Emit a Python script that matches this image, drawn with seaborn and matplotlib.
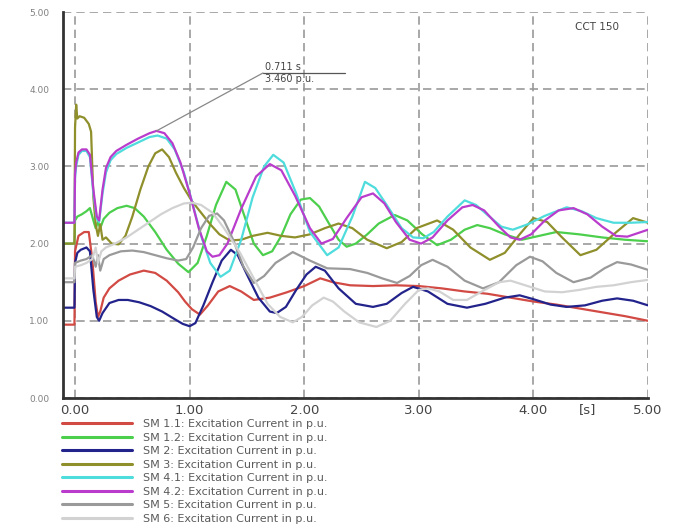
import numpy as np
import pandas as pd
import matplotlib
matplotlib.use("Agg")
import matplotlib.pyplot as plt
from matplotlib.ticker import MultipleLocator
import seaborn as sns

sns.set_theme(style="white")
plt.rcParams["font.family"] = ["DejaVu Sans"]

# Series names and colours
SERIES = [
    "SM 1.1: Excitation Current in p.u.",
    "SM 1.2: Excitation Current in p.u.",
    "SM 2: Excitation Current in p.u.",
    "SM 3: Excitation Current in p.u.",
    "SM 4.1: Excitation Current in p.u.",
    "SM 4.2: Excitation Current in p.u.",
    "SM 5: Excitation Current in p.u.",
    "SM 6: Excitation Current in p.u.",
]
COLORS = ["#d24a44", "#4ccf4c", "#23238c", "#8f8f2c", "#4fdcdc", "#b93ccc", "#9a9a9a", "#d2d2d2"]

# SM 1.1 (red)
SM11_T = [-0.1, -0.005, 0.0, 0.03, 0.08, 0.12, 0.15, 0.18, 0.2, 0.22, 0.25, 0.3, 0.38, 0.48, 0.6, 0.7,
          0.8, 0.9, 0.96, 1.02, 1.09, 1.16, 1.25, 1.35, 1.45, 1.56, 1.7, 1.85, 2.0, 2.14, 2.25, 2.4,
          2.6, 2.8, 3.0, 3.2, 3.4, 3.6, 3.8, 4.0, 4.2, 4.4, 4.6, 4.8, 5.0]
SM11_V = [0.95, 0.95, 1.9, 2.1, 2.15, 2.15, 1.8, 1.25, 1.05, 1.12, 1.3, 1.42, 1.52, 1.6, 1.65, 1.62,
          1.52, 1.37, 1.25, 1.15, 1.08, 1.2, 1.38, 1.45, 1.38, 1.27, 1.3, 1.37, 1.45, 1.55, 1.5, 1.46,
          1.45, 1.46, 1.45, 1.42, 1.38, 1.35, 1.3, 1.25, 1.21, 1.16, 1.11, 1.06, 1.0]

# SM 1.2 (green)
SM12_T = [-0.1, -0.005, 0.0, 0.02, 0.06, 0.1, 0.13, 0.16, 0.18, 0.2, 0.22, 0.25, 0.3, 0.37, 0.45, 0.52,
          0.6, 0.7, 0.8, 0.9, 0.99, 1.07, 1.15, 1.23, 1.32, 1.4, 1.48, 1.56, 1.64, 1.72, 1.8, 1.88,
          1.97, 2.05, 2.13, 2.22, 2.3, 2.37, 2.45, 2.55, 2.65, 2.79, 2.9, 3.03, 3.16, 3.28, 3.4, 3.51,
          3.62, 3.75, 3.9, 4.05, 4.2, 4.4, 4.6, 4.8, 5.0]
SM12_V = [2.0, 2.0, 2.3, 2.35, 2.38, 2.42, 2.46, 2.3, 2.2, 2.28, 2.2, 2.32, 2.4, 2.46, 2.49, 2.46,
          2.35, 2.15, 1.92, 1.74, 1.63, 1.75, 2.1, 2.5, 2.8, 2.7, 2.35, 2.0, 1.85, 1.9, 2.1, 2.38,
          2.57, 2.59, 2.48, 2.25, 2.05, 1.96, 2.0, 2.12, 2.26, 2.37, 2.3, 2.12, 1.98, 2.05, 2.18, 2.24,
          2.2, 2.12, 2.05, 2.1, 2.15, 2.12, 2.08, 2.05, 2.03]

# SM 2 (navy)
SM2_T = [-0.1, -0.005, 0.0, 0.02, 0.05, 0.1, 0.13, 0.16, 0.19, 0.21, 0.24, 0.3, 0.38, 0.46, 0.56, 0.66,
         0.76, 0.86, 0.94, 1.0, 1.05, 1.12, 1.2, 1.28, 1.36, 1.42, 1.5, 1.6, 1.7, 1.76, 1.84, 1.93,
         2.02, 2.1, 2.18, 2.3, 2.45, 2.6, 2.72, 2.85, 2.95, 3.08, 3.25, 3.42, 3.58, 3.75, 3.88, 4.0,
         4.15, 4.29, 4.45, 4.6, 4.73, 4.87, 5.0]
SM2_V = [1.17, 1.17, 1.75, 1.88, 1.92, 1.95, 1.9, 1.4, 1.05, 1.0, 1.1, 1.23, 1.27, 1.27, 1.24, 1.19,
         1.12, 1.03, 0.96, 0.93, 0.97, 1.2, 1.5, 1.78, 1.92, 1.85, 1.6, 1.3, 1.12, 1.1, 1.18, 1.4,
         1.6, 1.7, 1.65, 1.42, 1.22, 1.18, 1.22, 1.36, 1.44, 1.38, 1.22, 1.17, 1.22, 1.3, 1.33, 1.28,
         1.21, 1.18, 1.2, 1.26, 1.29, 1.26, 1.2]

# SM 3 (olive)
SM3_T = [-0.1, -0.005, 0.0, 0.01, 0.02, 0.04, 0.08, 0.12, 0.14, 0.16, 0.18, 0.2, 0.22, 0.24, 0.27, 0.32,
         0.38, 0.44, 0.5, 0.57, 0.64, 0.7, 0.76, 0.82, 0.88, 0.95, 1.02, 1.1, 1.18, 1.26, 1.35, 1.45,
         1.55, 1.68, 1.8, 1.92, 2.05, 2.18, 2.3, 2.42, 2.55, 2.72, 2.85, 2.98, 3.16, 3.3, 3.45, 3.62,
         3.75, 3.88, 4.0, 4.12, 4.25, 4.41, 4.55, 4.7, 4.87, 5.0]
SM3_V = [2.0, 2.0, 3.5, 3.8, 3.62, 3.65, 3.63, 3.55, 3.45, 2.6, 2.25, 2.1, 2.25, 2.05, 2.08, 2.0,
         1.99, 2.1, 2.35, 2.7, 3.0, 3.17, 3.22, 3.12, 2.92, 2.72, 2.55, 2.4, 2.25, 2.12, 2.04, 2.05,
         2.1, 2.14, 2.1, 2.08, 2.12, 2.2, 2.26, 2.2, 2.05, 1.94, 2.02, 2.2, 2.3, 2.18, 1.95, 1.79,
         1.88, 2.12, 2.33, 2.28, 2.08, 1.85, 1.92, 2.12, 2.33, 2.27]

# SM 4.1 (cyan)
SM41_T = [-0.1, -0.005, 0.0, 0.01, 0.03, 0.06, 0.1, 0.13, 0.16, 0.19, 0.21, 0.24, 0.27, 0.31, 0.36, 0.45,
          0.55, 0.65, 0.72, 0.8, 0.87, 0.95, 1.02, 1.1, 1.18, 1.27, 1.35, 1.45, 1.55, 1.65, 1.73, 1.82,
          1.93, 2.05, 2.2, 2.3, 2.42, 2.53, 2.62, 2.72, 2.85, 2.95, 3.04, 3.13, 3.25, 3.4, 3.5, 3.6,
          3.72, 3.82, 3.95, 4.1, 4.29, 4.42, 4.55, 4.7, 4.85, 5.0]
SM41_V = [2.27, 2.27, 2.85, 3.0, 3.15, 3.2, 3.2, 3.12, 2.65, 2.32, 2.28, 2.65, 2.92, 3.08, 3.16, 3.24,
          3.31, 3.38, 3.4, 3.36, 3.22, 2.92, 2.55, 2.1, 1.75, 1.57, 1.65, 2.05, 2.6, 3.0, 3.15, 3.05,
          2.65, 2.15, 1.85, 1.95, 2.35, 2.8, 2.72, 2.5, 2.2, 2.08, 2.07, 2.15, 2.35, 2.56, 2.5, 2.37,
          2.22, 2.18, 2.25, 2.36, 2.47, 2.42, 2.33, 2.27, 2.27, 2.28]

# SM 4.2 (magenta)
SM42_T = [-0.1, -0.005, 0.0, 0.01, 0.03, 0.06, 0.1, 0.13, 0.16, 0.19, 0.21, 0.24, 0.27, 0.31, 0.36, 0.45,
          0.55, 0.65, 0.711, 0.78, 0.85, 0.92, 1.0, 1.08, 1.15, 1.2, 1.26, 1.33, 1.45, 1.58, 1.7, 1.8,
          1.92, 2.05, 2.15, 2.25, 2.37, 2.5, 2.6, 2.7, 2.8, 2.92, 3.02, 3.12, 3.25, 3.38, 3.47, 3.57,
          3.7, 3.8, 3.88, 3.98, 4.1, 4.22, 4.35, 4.47, 4.6, 4.72, 4.82, 4.92, 5.0]
SM42_V = [2.27, 2.27, 2.9, 3.05, 3.18, 3.22, 3.22, 3.15, 2.7, 2.35, 2.3, 2.7, 2.98, 3.12, 3.2, 3.28,
          3.36, 3.43, 3.46, 3.43, 3.3, 3.05, 2.65, 2.2, 1.9, 1.83, 1.85, 2.0, 2.45, 2.87, 3.03, 2.95,
          2.62, 2.2, 2.0, 2.06, 2.33, 2.6, 2.65, 2.52, 2.28, 2.05, 2.0, 2.08, 2.3, 2.47, 2.5, 2.43,
          2.22, 2.08, 2.05, 2.12, 2.3, 2.43, 2.46, 2.38, 2.22, 2.1, 2.09, 2.14, 2.18]

# SM 5 (grey)
SM5_T = [-0.1, -0.005, 0.0, 0.05, 0.1, 0.15, 0.18, 0.2, 0.22, 0.25, 0.3, 0.4, 0.5, 0.6, 0.7, 0.8,
         0.9, 0.97, 1.03, 1.1, 1.17, 1.24, 1.3, 1.38, 1.47, 1.56, 1.65, 1.75, 1.9, 2.05, 2.2, 2.4,
         2.55, 2.68, 2.81, 2.92, 3.02, 3.12, 3.25, 3.4, 3.56, 3.7, 3.85, 3.97, 4.08, 4.2, 4.35, 4.5,
         4.62, 4.73, 4.85, 5.0]
SM5_V = [1.5, 1.5, 1.75, 1.78, 1.8, 1.85, 1.7, 1.85, 1.65, 1.8, 1.85, 1.9, 1.91, 1.89, 1.85, 1.81,
         1.78, 1.8, 1.95, 2.2, 2.36, 2.39, 2.3, 2.05, 1.7, 1.49, 1.58, 1.75, 1.89, 1.78, 1.68, 1.67,
         1.62, 1.55, 1.49, 1.58, 1.72, 1.79, 1.7, 1.52, 1.42, 1.5, 1.72, 1.83, 1.77, 1.62, 1.5, 1.56,
         1.68, 1.76, 1.73, 1.66]

# SM 6 (light grey)
SM6_T = [-0.1, -0.005, 0.0, 0.05, 0.1, 0.15, 0.18, 0.2, 0.23, 0.27, 0.35, 0.45, 0.55, 0.65, 0.75, 0.85,
         0.95, 1.02, 1.1, 1.2, 1.3, 1.44, 1.56, 1.68, 1.79, 1.9, 1.98, 2.07, 2.17, 2.25, 2.35, 2.48,
         2.63, 2.75, 2.88, 3.0, 3.08, 3.18, 3.3, 3.42, 3.55, 3.7, 3.8, 3.95, 4.1, 4.25, 4.4, 4.55,
         4.7, 4.85, 5.0]
SM6_V = [1.55, 1.55, 1.7, 1.72, 1.75, 1.8, 1.95, 1.75, 1.9, 1.95, 2.0, 2.08, 2.18, 2.28, 2.38, 2.46,
         2.52, 2.53, 2.5, 2.4, 2.2, 1.88, 1.55, 1.22, 1.05, 0.98, 1.05, 1.2, 1.3, 1.25, 1.12, 0.98,
         0.92, 1.0, 1.22, 1.4, 1.42, 1.38, 1.27, 1.27, 1.38, 1.5, 1.52, 1.45, 1.38, 1.37, 1.4, 1.44,
         1.46, 1.5, 1.53]

# marked peak of SM 4.2
PEAK_T = 0.711
PEAK_V = 3.460

X_TICKS = [0, 1, 2, 3, 4, 5]
Y_TICKS = [0, 1, 2, 3, 4, 5]

# long table for seaborn
pairs = [(SM11_T, SM11_V), (SM12_T, SM12_V), (SM2_T, SM2_V), (SM3_T, SM3_V),
         (SM41_T, SM41_V), (SM42_T, SM42_V), (SM5_T, SM5_V), (SM6_T, SM6_V)]
frames = []
for name, (t, v) in zip(SERIES, pairs):
    frames.append(pd.DataFrame({"t": t, "v": v, "series": name}))
df = pd.concat(frames, ignore_index=True)

fig = plt.figure(figsize=(6.78, 5.27), dpi=100)
ax = fig.add_axes([63 / 678, 1 - 398 / 527, (648 - 63) / 678, (398 - 12) / 527])

sns.lineplot(data=df, x="t", y="v", hue="series", hue_order=SERIES,
             palette=dict(zip(SERIES, COLORS)), estimator=None, linewidth=1.6, ax=ax)

handles, labels = ax.get_legend_handles_labels()
leg = ax.legend(handles, labels, loc="upper left", bbox_to_anchor=(62 / 678, 1 - 419 / 527),
                bbox_transform=fig.transFigure, frameon=False, fontsize=8,
                handlelength=6.3, handletextpad=1.0, labelspacing=0.32, borderpad=0,
                borderaxespad=0, labelcolor="#5a5a5a")
for h in leg.get_lines():
    h.set_linewidth(2.2)

ax.set_xlim(-0.105, 5.0)
ax.set_ylim(0, 5.0)
ax.set_xticks(X_TICKS)
ax.set_xticklabels([f"{x:.2f}" for x in X_TICKS], fontsize=9.5, color="#444444")
ax.set_yticks(Y_TICKS)
ax.set_yticklabels([f"{y:.2f}" for y in Y_TICKS], fontsize=6.5, color="#808080")
ax.xaxis.set_minor_locator(MultipleLocator(0.5))
ax.yaxis.set_minor_locator(MultipleLocator(0.5))
ax.tick_params(which="both", direction="in", length=3, color="#444444", width=1)
ax.tick_params(axis="x", pad=4)
ax.tick_params(axis="y", pad=10)
ax.set_xlabel("")
ax.set_ylabel("")

ax.grid(True, which="major", linestyle=(0, (5, 3)), color="#999999", linewidth=1.2)
ax.set_axisbelow(True)
for side in ["top", "right"]:
    ax.spines[side].set_visible(False)
for side in ["left", "bottom"]:
    ax.spines[side].set_color("#333333")
    ax.spines[side].set_linewidth(2)

ax.text(4.47, -0.012, "[s]", transform=ax.get_xaxis_transform(), ha="center", va="top",
        fontsize=9.5, color="#444444")
ax.text(4.36, 4.81, "CCT 150", fontsize=7.5, color="#444444", va="center")

# peak marker annotation
ax.annotate("", xy=(PEAK_T, PEAK_V), xytext=(1.64, 4.21),
            arrowprops=dict(arrowstyle="-", color="#888888", lw=0.9, shrinkA=0, shrinkB=0))
ax.plot([1.64, 2.36], [4.21, 4.21], color="#555555", lw=0.9)
ax.text(1.66, 4.22, f"{PEAK_T:.3f} s", va="bottom", fontsize=7, color="#444444")
ax.text(1.66, 4.20, f"{PEAK_V:.3f} p.u.", va="top", fontsize=7, color="#444444")

plt.savefig("out.png", dpi=100)
plt.close()
